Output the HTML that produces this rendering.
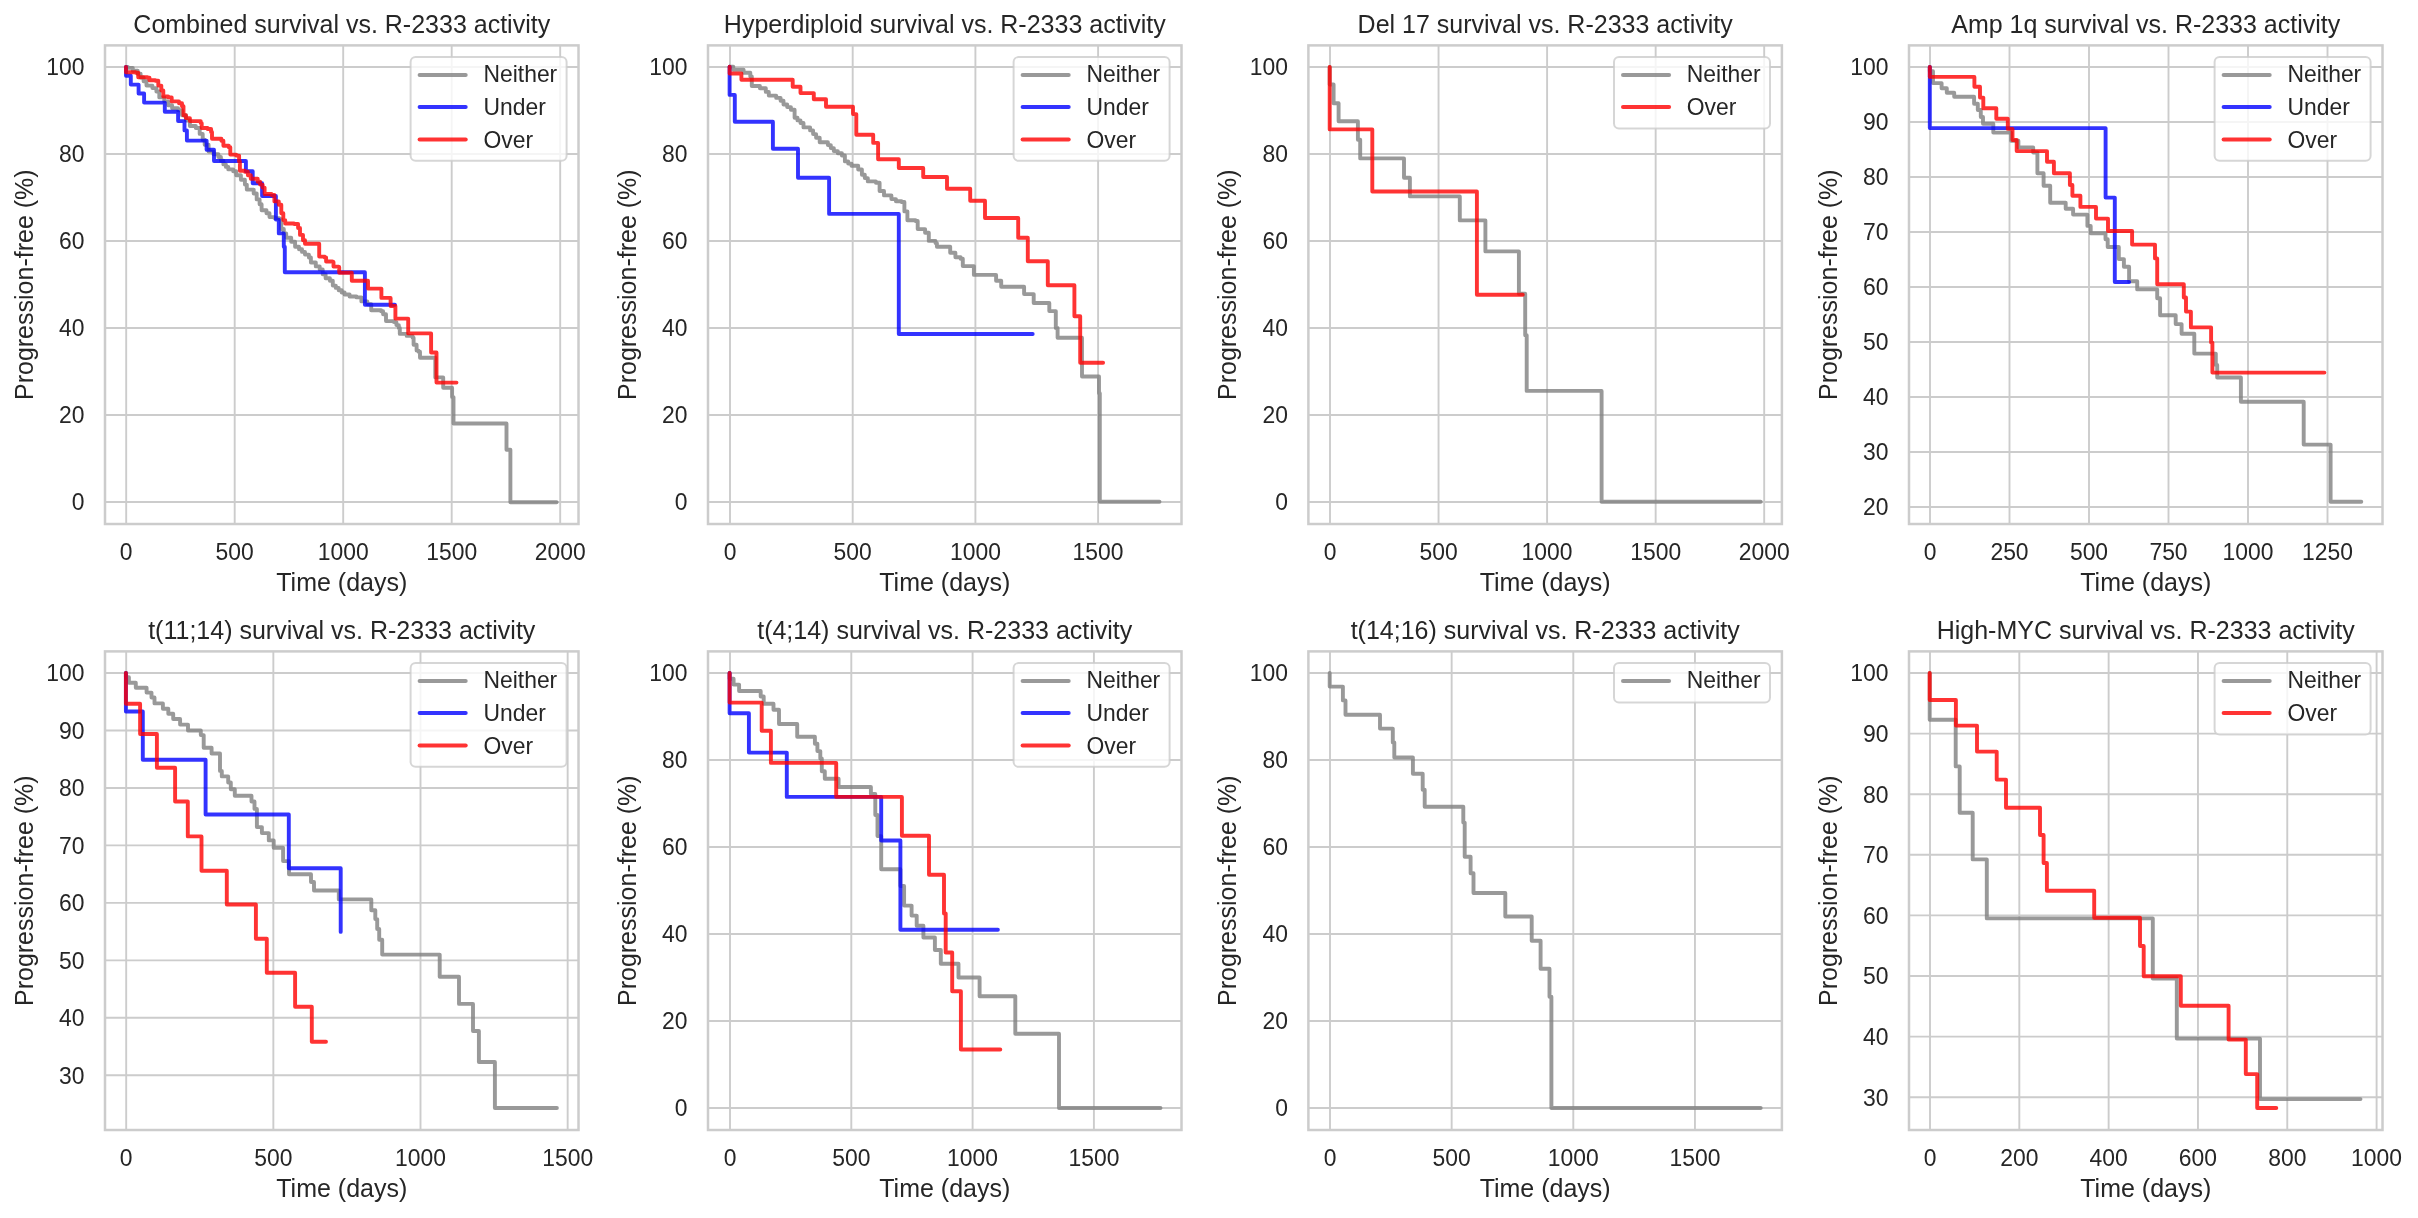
<!DOCTYPE html><html><head><meta charset="utf-8"><title>Survival vs. R-2333 activity</title><style>html,body{margin:0;padding:0;background:#fff;}svg{display:block;will-change:transform;}text{font-family:"Liberation Sans", Arial, "DejaVu Sans", sans-serif;fill:#262626;}</style></head><body>
<svg width="2418" height="1218" viewBox="0 0 2418 1218">
<rect width="2418" height="1218" fill="#ffffff"/>
<defs>
<clipPath id="c0"><rect x="105" y="45.4" width="473.5" height="478.6"/></clipPath>
<clipPath id="c1"><rect x="708" y="45.4" width="473.5" height="478.6"/></clipPath>
<clipPath id="c2"><rect x="1308.4" y="45.4" width="473.5" height="478.6"/></clipPath>
<clipPath id="c3"><rect x="1909" y="45.4" width="473.5" height="478.6"/></clipPath>
<clipPath id="c4"><rect x="105" y="651.4" width="473.5" height="478.6"/></clipPath>
<clipPath id="c5"><rect x="708" y="651.4" width="473.5" height="478.6"/></clipPath>
<clipPath id="c6"><rect x="1308.4" y="651.4" width="473.5" height="478.6"/></clipPath>
<clipPath id="c7"><rect x="1909" y="651.4" width="473.5" height="478.6"/></clipPath>
</defs>
<g><path d="M126.2 45.4V524M234.7 45.4V524M343.2 45.4V524M451.7 45.4V524M560.2 45.4V524M105 502H578.5M105 415H578.5M105 328H578.5M105 241H578.5M105 154H578.5M105 67H578.5" stroke="#cccccc" stroke-width="1.9" fill="none"/><path d="M126.0 66.9H127.8V67.9H132.8V70.8H137.7V73.8H140.6V77.5H143.6V81.2H146.5V85.6H152.4V88.1H156.4V91.5H159.3V97.4H164.3V101.4H168.2V105.3H172.1V108.3H178.1V110.2H182.0V115.2H186.0V120.5H189.9V126.0H195.8V128.0H199.7V133.9H202.7V139.8H204.7V144.7H208.6V151.6H213.5V154.3H218.4V157.0H220.9V160.7H223.4V164.4H225.9V166.9H228.3V169.4H233.2V171.3H236.2V175.3H240.9V179.7H244.9V184.6H246.8V189.6H253.7V193.5H256.7V199.4H259.6V204.3H261.6V210.2H266.5V213.2H269.5V217.1H274.4V218.1H279.3V219.1H281.3V229.0H283.8V233.4H286.2V237.8H291.2V241.8H295.1V246.7H299.0V249.2H302.0V251.9H305.0V254.6H308.9V257.5H310.9V262.5H315.8V266.4H319.7V269.4H322.7V274.3H325.6V278.2H329.9V280.7H332.8V285.6H335.8V287.9H338.7V290.2H341.7V292.5H344.6V294.5H349.6V296.5H356.5V297.4H361.4V301.4H367.3V304.3H371.2V310.2H381.1V311.2H383.1V314.2H386.0V315.2H386.0V321.1H393.9V322.1H396.4V325.1H398.8V328.0H399.8V333.9H406.7V335.9H412.6V337.8H413.6V344.7H416.6V350.6H418.6V351.8H420.0V357.7H435.3V377.4H443.2V387.8H452.1V397.1H453.5V423.5H506.5V449.8H510.4V502.2H556.6" stroke="rgba(128,128,128,0.8)" stroke-width="3.9" fill="none" stroke-linecap="round" stroke-linejoin="round" clip-path="url(#c0)"/><path d="M126 66.9V75.8H130.8V84.6H138.6V93.5H144.1V102.6H164.8V111.7H178.1V121.1H184.5V130.4H186.9V140.6H206.6V149.7H214V161H245.9V171.3H252.7V183.2H262.1V196H275.9V219.6H278.8V233.4H283.8V246.7H284.8V272.3H364.9V304.8H394.9" stroke="rgba(0,0,255,0.8)" stroke-width="3.9" fill="none" stroke-linecap="round" stroke-linejoin="round" clip-path="url(#c0)"/><path d="M126.0 66.9H126.0V72.3H135.7V72.8H138.2V77.2H147.5V77.7H149.5V80.2H155.4V80.7H158.3V85.6H161.3V90.5H163.3V96.5H168.2V97.4H171.7V101.4H179.0V103.3H182.0V106.3H183.5V115.2H185.9V118.1H189.9V121.1H200.7V123.1H201.7V128.0H207.6V129.0H211.1V131.9H212.0V138.8H221.4V140.8H223.4V145.7H228.8V147.2H230.3V154.6H236.2V155.6H239.1V161.5H239.9V170.8H244.9V171.8H247.9V175.2H250.8V178.7H257.7V181.7H260.1V184.6H262.6V187.6H264.6V194.0H271.5V195.0H274.4V201.4H278.8V204.8H281.3V213.2H283.3V220.1H285.2V223.5H294.1V224.0H298.1V228.0H300.0V234.9H303.0V240.3H305.0V243.7H318.3V243.7H319.2V256.6H324.7V257.5H326.1V261.5H332.5V262.0H333.5V266.6H338.7V266.9H339.2V272.8H351.8V280.7H368V288.6H381.4V297.9H390.6V306H395.4V318.6H408.2V333.4H431.1V352.5H436.5V382.6H456.5" stroke="rgba(255,0,0,0.8)" stroke-width="3.9" fill="none" stroke-linecap="round" stroke-linejoin="round" clip-path="url(#c0)"/><rect x="105" y="45.4" width="473.5" height="478.6" stroke="#cccccc" stroke-width="2.5" fill="none"/><text transform="translate(126.2 560.4) scale(1 1.055)" font-size="22.92" text-anchor="middle">0</text><text transform="translate(234.7 560.4) scale(1 1.055)" font-size="22.92" text-anchor="middle">500</text><text transform="translate(343.2 560.4) scale(1 1.055)" font-size="22.92" text-anchor="middle">1000</text><text transform="translate(451.7 560.4) scale(1 1.055)" font-size="22.92" text-anchor="middle">1500</text><text transform="translate(560.2 560.4) scale(1 1.055)" font-size="22.92" text-anchor="middle">2000</text><text transform="translate(84.6 510.4) scale(1 1.055)" font-size="22.92" text-anchor="end">0</text><text transform="translate(84.6 423.4) scale(1 1.055)" font-size="22.92" text-anchor="end">20</text><text transform="translate(84.6 336.4) scale(1 1.055)" font-size="22.92" text-anchor="end">40</text><text transform="translate(84.6 249.4) scale(1 1.055)" font-size="22.92" text-anchor="end">60</text><text transform="translate(84.6 162.4) scale(1 1.055)" font-size="22.92" text-anchor="end">80</text><text transform="translate(84.6 75.4) scale(1 1.055)" font-size="22.92" text-anchor="end">100</text><text x="341.75" y="591" font-size="25.0" text-anchor="middle">Time (days)</text><text transform="translate(33 284.7) rotate(-90)" font-size="25.0" text-anchor="middle">Progression-free (%)</text><text x="341.75" y="33.3" font-size="25.0" text-anchor="middle">Combined survival vs. R-2333 activity</text><rect x="410.6" y="57.1" width="156" height="103.7" rx="5" ry="5" fill="rgba(255,255,255,0.8)" stroke="rgba(204,204,204,0.8)" stroke-width="2"/><path d="M419.6 75H465.7" stroke="rgba(128,128,128,0.8)" stroke-width="4" stroke-linecap="round"/><text transform="translate(483.4 82) scale(1 1.055)" font-size="22.92">Neither</text><path d="M419.6 107H465.7" stroke="rgba(0,0,255,0.8)" stroke-width="4" stroke-linecap="round"/><text transform="translate(483.4 115.2) scale(1 1.055)" font-size="22.92">Under</text><path d="M419.6 139.5H465.7" stroke="rgba(255,0,0,0.8)" stroke-width="4" stroke-linecap="round"/><text transform="translate(483.4 147.5) scale(1 1.055)" font-size="22.92">Over</text></g>
<g><path d="M730 45.4V524M852.7 45.4V524M975.4 45.4V524M1098.1 45.4V524M708 502H1181.5M708 415H1181.5M708 328H1181.5M708 241H1181.5M708 154H1181.5M708 67H1181.5" stroke="#cccccc" stroke-width="1.9" fill="none"/><path d="M729.6 66.8H733.3V69.8H743.6V72.7H750.3V76.4H751.8V86.0H759.9V88.2H765.8V91.9H768.8V95.6H776.2V97.9H780.6V100.8H783.5V104.5H787.2V107.1H790.9V109.7H794.6V117.8H797.5V120.4H800.5V123.0H803.5V127.4H810.1V130.4H813.1V134.1H816.1V137.8H819.7V142.2H827.9V145.1H830.8V148.1H833.8V151.1H837.8V153.3H841.9V155.5H844.9V161.4H848.2V163.6H851.5V165.8H858.2V169.5H861.9V174.7H864.8V178.1H867.8V181.4H875.9V182.8H879.6V191.0H884.0V195.4H891.4V199.1H895.9V201.3H901.5V202.0H904.4V211.4H907.4V220.2H915.5V221.0H917.7V229.1H925.1V232.8H928.8V240.9H935.5V243.1H936.9V246.8H947.3V246.8H950.2V252.8H955.4V257.2H960.6V258.7H962.8V266.1H973.9V266.8V274.9H996.1V280.8H1001.2V286.7H1024.1V294.1H1033.7V303H1049.3V311.1H1055.8V328H1057.6V337.7H1082V376.5H1099V393.2H1099.8V501.7H1159.5" stroke="rgba(128,128,128,0.8)" stroke-width="3.9" fill="none" stroke-linecap="round" stroke-linejoin="round" clip-path="url(#c1)"/><path d="M729.6 66.8V94.9H734.8V121.8H772.9V148.8H798V177.7H829.1V213.9H898.8V334H1032.7" stroke="rgba(0,0,255,0.8)" stroke-width="3.9" fill="none" stroke-linecap="round" stroke-linejoin="round" clip-path="url(#c1)"/><path d="M729.6 66.8V73.5H741.4V79.8H792.7V86.8H800.5V93.1H813.8V99.3H826V106.7H853V114.1H856.3V134.8H873.2V142.9H878.1V159.2H898.8V168H923.2V177H947V188.8H970.2V200.7H985V218H1018.2V237.7H1027.8V261.3H1047.8V285.3H1074.4V316.3H1080.2V362.7H1103.1" stroke="rgba(255,0,0,0.8)" stroke-width="3.9" fill="none" stroke-linecap="round" stroke-linejoin="round" clip-path="url(#c1)"/><rect x="708" y="45.4" width="473.5" height="478.6" stroke="#cccccc" stroke-width="2.5" fill="none"/><text transform="translate(730 560.4) scale(1 1.055)" font-size="22.92" text-anchor="middle">0</text><text transform="translate(852.7 560.4) scale(1 1.055)" font-size="22.92" text-anchor="middle">500</text><text transform="translate(975.4 560.4) scale(1 1.055)" font-size="22.92" text-anchor="middle">1000</text><text transform="translate(1098.1 560.4) scale(1 1.055)" font-size="22.92" text-anchor="middle">1500</text><text transform="translate(687.6 510.4) scale(1 1.055)" font-size="22.92" text-anchor="end">0</text><text transform="translate(687.6 423.4) scale(1 1.055)" font-size="22.92" text-anchor="end">20</text><text transform="translate(687.6 336.4) scale(1 1.055)" font-size="22.92" text-anchor="end">40</text><text transform="translate(687.6 249.4) scale(1 1.055)" font-size="22.92" text-anchor="end">60</text><text transform="translate(687.6 162.4) scale(1 1.055)" font-size="22.92" text-anchor="end">80</text><text transform="translate(687.6 75.4) scale(1 1.055)" font-size="22.92" text-anchor="end">100</text><text x="944.75" y="591" font-size="25.0" text-anchor="middle">Time (days)</text><text transform="translate(636 284.7) rotate(-90)" font-size="25.0" text-anchor="middle">Progression-free (%)</text><text x="944.75" y="33.3" font-size="25.0" text-anchor="middle">Hyperdiploid survival vs. R-2333 activity</text><rect x="1013.6" y="57.1" width="156" height="103.7" rx="5" ry="5" fill="rgba(255,255,255,0.8)" stroke="rgba(204,204,204,0.8)" stroke-width="2"/><path d="M1022.6 75H1068.7" stroke="rgba(128,128,128,0.8)" stroke-width="4" stroke-linecap="round"/><text transform="translate(1086.4 82) scale(1 1.055)" font-size="22.92">Neither</text><path d="M1022.6 107H1068.7" stroke="rgba(0,0,255,0.8)" stroke-width="4" stroke-linecap="round"/><text transform="translate(1086.4 115.2) scale(1 1.055)" font-size="22.92">Under</text><path d="M1022.6 139.5H1068.7" stroke="rgba(255,0,0,0.8)" stroke-width="4" stroke-linecap="round"/><text transform="translate(1086.4 147.5) scale(1 1.055)" font-size="22.92">Over</text></g>
<g><path d="M1330 45.4V524M1438.55 45.4V524M1547.1 45.4V524M1655.65 45.4V524M1764.2 45.4V524M1308.4 502H1781.9M1308.4 415H1781.9M1308.4 328H1781.9M1308.4 241H1781.9M1308.4 154H1781.9M1308.4 67H1781.9" stroke="#cccccc" stroke-width="1.9" fill="none"/><path d="M1329.7 67V84.5H1333.6V103.2H1338.6V121.3H1357.9V139.7H1360.2V158.4H1404V177.7H1409.9V196.4H1459.8V220.4H1485.4V251.4H1518.9V293.8H1525.2V335.2H1526.7V390.9H1601.6V501.7H1760.7" stroke="rgba(128,128,128,0.8)" stroke-width="3.9" fill="none" stroke-linecap="round" stroke-linejoin="round" clip-path="url(#c2)"/><path d="M1329.7 67V129.4H1372.3V191.5H1476.9V294.8H1522.8" stroke="rgba(255,0,0,0.8)" stroke-width="3.9" fill="none" stroke-linecap="round" stroke-linejoin="round" clip-path="url(#c2)"/><rect x="1308.4" y="45.4" width="473.5" height="478.6" stroke="#cccccc" stroke-width="2.5" fill="none"/><text transform="translate(1330 560.4) scale(1 1.055)" font-size="22.92" text-anchor="middle">0</text><text transform="translate(1438.55 560.4) scale(1 1.055)" font-size="22.92" text-anchor="middle">500</text><text transform="translate(1547.1 560.4) scale(1 1.055)" font-size="22.92" text-anchor="middle">1000</text><text transform="translate(1655.65 560.4) scale(1 1.055)" font-size="22.92" text-anchor="middle">1500</text><text transform="translate(1764.2 560.4) scale(1 1.055)" font-size="22.92" text-anchor="middle">2000</text><text transform="translate(1288 510.4) scale(1 1.055)" font-size="22.92" text-anchor="end">0</text><text transform="translate(1288 423.4) scale(1 1.055)" font-size="22.92" text-anchor="end">20</text><text transform="translate(1288 336.4) scale(1 1.055)" font-size="22.92" text-anchor="end">40</text><text transform="translate(1288 249.4) scale(1 1.055)" font-size="22.92" text-anchor="end">60</text><text transform="translate(1288 162.4) scale(1 1.055)" font-size="22.92" text-anchor="end">80</text><text transform="translate(1288 75.4) scale(1 1.055)" font-size="22.92" text-anchor="end">100</text><text x="1545.15" y="591" font-size="25.0" text-anchor="middle">Time (days)</text><text transform="translate(1236.4 284.7) rotate(-90)" font-size="25.0" text-anchor="middle">Progression-free (%)</text><text x="1545.15" y="33.3" font-size="25.0" text-anchor="middle">Del 17 survival vs. R-2333 activity</text><rect x="1614" y="57.1" width="156" height="71.5" rx="5" ry="5" fill="rgba(255,255,255,0.8)" stroke="rgba(204,204,204,0.8)" stroke-width="2"/><path d="M1623 75H1669.1" stroke="rgba(128,128,128,0.8)" stroke-width="4" stroke-linecap="round"/><text transform="translate(1686.8 82) scale(1 1.055)" font-size="22.92">Neither</text><path d="M1623 107H1669.1" stroke="rgba(255,0,0,0.8)" stroke-width="4" stroke-linecap="round"/><text transform="translate(1686.8 115.2) scale(1 1.055)" font-size="22.92">Over</text></g>
<g><path d="M1930 45.4V524M2009.5 45.4V524M2089 45.4V524M2168.5 45.4V524M2248 45.4V524M2327.5 45.4V524M1909 507H2382.5M1909 452H2382.5M1909 397H2382.5M1909 342H2382.5M1909 287H2382.5M1909 232H2382.5M1909 177H2382.5M1909 122H2382.5M1909 67H2382.5" stroke="#cccccc" stroke-width="1.9" fill="none"/><path d="M1929.8 67V71.3H1933V83.1H1941.6V88.2H1946.8V92.7H1954.2V96.7H1974.1V103.8H1977.8V110H1980.8V117H1983V123.7H1993.3V132.6H2011.1V140.7H2018.4V147.4H2033.2V152.5H2037.4V173.2H2043.6V185.8H2050.2V202.8H2065.7V208.7H2073.1V214.6H2087.4V225.9H2090.7V233.2H2105.5V239.2H2107.7V247H2118.8V259.1H2123.9V266.8H2129.1V281.3H2137.2V289.4H2157.2V298.3H2160.1V315.3H2175.7V324.1H2181.6V333.7H2194.3V353.6H2215.8V365H2217.2V377.5H2240.9V401.8H2303.7V444.6H2330.6V501.8H2361.3" stroke="rgba(128,128,128,0.8)" stroke-width="3.9" fill="none" stroke-linecap="round" stroke-linejoin="round" clip-path="url(#c3)"/><path d="M1929.8 67V128.1H2105.6V197.6H2114.8V282H2129.1" stroke="rgba(0,0,255,0.8)" stroke-width="3.9" fill="none" stroke-linecap="round" stroke-linejoin="round" clip-path="url(#c3)"/><path d="M1929.8 67V76.9H1974.4V86.8H1980V97.6H1983.3V108.2H1996.3V118.8H2007.8V128.9H2012.5V140H2016.7V151.1H2047V161.7H2053.9V173.2H2069.9V185H2072.4V195.8H2080.4V206.9H2096V218.6H2108V231H2132.1V244.6H2155V258.4H2157.2V284.2H2183.8V297.5H2186V311.6H2190.9V327.4H2211.1V342.6H2212.4V372.6H2324.4" stroke="rgba(255,0,0,0.8)" stroke-width="3.9" fill="none" stroke-linecap="round" stroke-linejoin="round" clip-path="url(#c3)"/><rect x="1909" y="45.4" width="473.5" height="478.6" stroke="#cccccc" stroke-width="2.5" fill="none"/><text transform="translate(1930 560.4) scale(1 1.055)" font-size="22.92" text-anchor="middle">0</text><text transform="translate(2009.5 560.4) scale(1 1.055)" font-size="22.92" text-anchor="middle">250</text><text transform="translate(2089 560.4) scale(1 1.055)" font-size="22.92" text-anchor="middle">500</text><text transform="translate(2168.5 560.4) scale(1 1.055)" font-size="22.92" text-anchor="middle">750</text><text transform="translate(2248 560.4) scale(1 1.055)" font-size="22.92" text-anchor="middle">1000</text><text transform="translate(2327.5 560.4) scale(1 1.055)" font-size="22.92" text-anchor="middle">1250</text><text transform="translate(1888.6 515.4) scale(1 1.055)" font-size="22.92" text-anchor="end">20</text><text transform="translate(1888.6 460.4) scale(1 1.055)" font-size="22.92" text-anchor="end">30</text><text transform="translate(1888.6 405.4) scale(1 1.055)" font-size="22.92" text-anchor="end">40</text><text transform="translate(1888.6 350.4) scale(1 1.055)" font-size="22.92" text-anchor="end">50</text><text transform="translate(1888.6 295.4) scale(1 1.055)" font-size="22.92" text-anchor="end">60</text><text transform="translate(1888.6 240.4) scale(1 1.055)" font-size="22.92" text-anchor="end">70</text><text transform="translate(1888.6 185.4) scale(1 1.055)" font-size="22.92" text-anchor="end">80</text><text transform="translate(1888.6 130.4) scale(1 1.055)" font-size="22.92" text-anchor="end">90</text><text transform="translate(1888.6 75.4) scale(1 1.055)" font-size="22.92" text-anchor="end">100</text><text x="2145.75" y="591" font-size="25.0" text-anchor="middle">Time (days)</text><text transform="translate(1837 284.7) rotate(-90)" font-size="25.0" text-anchor="middle">Progression-free (%)</text><text x="2145.75" y="33.3" font-size="25.0" text-anchor="middle">Amp 1q survival vs. R-2333 activity</text><rect x="2214.6" y="57.1" width="156" height="103.7" rx="5" ry="5" fill="rgba(255,255,255,0.8)" stroke="rgba(204,204,204,0.8)" stroke-width="2"/><path d="M2223.6 75H2269.7" stroke="rgba(128,128,128,0.8)" stroke-width="4" stroke-linecap="round"/><text transform="translate(2287.4 82) scale(1 1.055)" font-size="22.92">Neither</text><path d="M2223.6 107H2269.7" stroke="rgba(0,0,255,0.8)" stroke-width="4" stroke-linecap="round"/><text transform="translate(2287.4 115.2) scale(1 1.055)" font-size="22.92">Under</text><path d="M2223.6 139.5H2269.7" stroke="rgba(255,0,0,0.8)" stroke-width="4" stroke-linecap="round"/><text transform="translate(2287.4 147.5) scale(1 1.055)" font-size="22.92">Over</text></g>
<g><path d="M126.2 651.4V1130M273.35 651.4V1130M420.5 651.4V1130M567.65 651.4V1130M105 1075.29H578.5M105 1017.82H578.5M105 960.35H578.5M105 902.88H578.5M105 845.41H578.5M105 787.94H578.5M105 730.47H578.5M105 673H578.5" stroke="#cccccc" stroke-width="1.9" fill="none"/><path d="M125.9 673V677.3H128.9V682.7H135.8V687.7H146.6V692.6H151.5V697.5H154.5V703.4H162.9V708.8H168.3V713.8H173.2V719H180.1V724.6H188V730.5H200.8V735.1H203.7V747.8H211.6V753.5H220V770.9H221.8V776.4H228.2V782.5H230.8V789.2H234.8V795.8H251.5V801.5H254.5V808.9H256.9V827.1H261.9V833.1H268.8V840.4H273.7V847.8H283.1V861.1H289V874.3H311V882H314V890.5H338.8V899.4H371.3V910.2H375.3V919.1H377.2V929H379.2V939.8H382.2V954.6H439.7V976.8H459V1003.9H473V1031H478.9V1062H494.9V1108H556.9" stroke="rgba(128,128,128,0.8)" stroke-width="3.9" fill="none" stroke-linecap="round" stroke-linejoin="round" clip-path="url(#c4)"/><path d="M125.9 673V711.5H142.8V759.8H205.6V814.5H288.8V868.2H340.7V931.9" stroke="rgba(0,0,255,0.8)" stroke-width="3.9" fill="none" stroke-linecap="round" stroke-linejoin="round" clip-path="url(#c4)"/><path d="M125.9 673V703.8H140.1V734H156.9V767.8H175.1V801.5H187.8V836.4H201.5V870.8H226.8V904.5H255.9V938.7H266.8V972.7H295.1V1006.8H311.8V1041.7H326" stroke="rgba(255,0,0,0.8)" stroke-width="3.9" fill="none" stroke-linecap="round" stroke-linejoin="round" clip-path="url(#c4)"/><rect x="105" y="651.4" width="473.5" height="478.6" stroke="#cccccc" stroke-width="2.5" fill="none"/><text transform="translate(126.2 1166.4) scale(1 1.055)" font-size="22.92" text-anchor="middle">0</text><text transform="translate(273.35 1166.4) scale(1 1.055)" font-size="22.92" text-anchor="middle">500</text><text transform="translate(420.5 1166.4) scale(1 1.055)" font-size="22.92" text-anchor="middle">1000</text><text transform="translate(567.65 1166.4) scale(1 1.055)" font-size="22.92" text-anchor="middle">1500</text><text transform="translate(84.6 1083.69) scale(1 1.055)" font-size="22.92" text-anchor="end">30</text><text transform="translate(84.6 1026.22) scale(1 1.055)" font-size="22.92" text-anchor="end">40</text><text transform="translate(84.6 968.75) scale(1 1.055)" font-size="22.92" text-anchor="end">50</text><text transform="translate(84.6 911.28) scale(1 1.055)" font-size="22.92" text-anchor="end">60</text><text transform="translate(84.6 853.81) scale(1 1.055)" font-size="22.92" text-anchor="end">70</text><text transform="translate(84.6 796.34) scale(1 1.055)" font-size="22.92" text-anchor="end">80</text><text transform="translate(84.6 738.87) scale(1 1.055)" font-size="22.92" text-anchor="end">90</text><text transform="translate(84.6 681.4) scale(1 1.055)" font-size="22.92" text-anchor="end">100</text><text x="341.75" y="1197" font-size="25.0" text-anchor="middle">Time (days)</text><text transform="translate(33 890.7) rotate(-90)" font-size="25.0" text-anchor="middle">Progression-free (%)</text><text x="341.75" y="639.3" font-size="25.0" text-anchor="middle">t(11;14) survival vs. R-2333 activity</text><rect x="410.6" y="663.1" width="156" height="103.7" rx="5" ry="5" fill="rgba(255,255,255,0.8)" stroke="rgba(204,204,204,0.8)" stroke-width="2"/><path d="M419.6 681H465.7" stroke="rgba(128,128,128,0.8)" stroke-width="4" stroke-linecap="round"/><text transform="translate(483.4 688) scale(1 1.055)" font-size="22.92">Neither</text><path d="M419.6 713H465.7" stroke="rgba(0,0,255,0.8)" stroke-width="4" stroke-linecap="round"/><text transform="translate(483.4 721.2) scale(1 1.055)" font-size="22.92">Under</text><path d="M419.6 745.5H465.7" stroke="rgba(255,0,0,0.8)" stroke-width="4" stroke-linecap="round"/><text transform="translate(483.4 753.5) scale(1 1.055)" font-size="22.92">Over</text></g>
<g><path d="M730 651.4V1130M851.3 651.4V1130M972.6 651.4V1130M1093.9 651.4V1130M708 1108H1181.5M708 1021H1181.5M708 934H1181.5M708 847H1181.5M708 760H1181.5M708 673H1181.5" stroke="#cccccc" stroke-width="1.9" fill="none"/><path d="M729.6 673V678.7H733.6V684.6H739.1V691H760.7V696.5H763.7V703.8H773.5V709.8H779V724H797.2V736.8H814.9V743.7H817.4V751.1H820.3V758.5H821.8V771.3H824.8V778.7H838.6V787H870.9V793.9H875.3V815H877.5V836.1H881.2V869.3H900.4V886H904.1V905.6H911.6V915.6H916.7V925.7H923.4V937.5H934.9V950H940.8V963.7H958.5V977.5H979.6V996.3H1015.3V1033.7H1059V1108H1160.5" stroke="rgba(128,128,128,0.8)" stroke-width="3.9" fill="none" stroke-linecap="round" stroke-linejoin="round" clip-path="url(#c5)"/><path d="M729.6 673V713.2H748.9V752.6H786.8V796.9H881.2V840.5H900.4V929.7H997.9" stroke="rgba(0,0,255,0.8)" stroke-width="3.9" fill="none" stroke-linecap="round" stroke-linejoin="round" clip-path="url(#c5)"/><path d="M729.6 673V702.6H761.7V730.7H770.9V762.9H836.2V796.9H901.9V835.8H929V874.8H944V913.5H945.7V952.5H952.2V991.3H960.9V1049.5H1000.3" stroke="rgba(255,0,0,0.8)" stroke-width="3.9" fill="none" stroke-linecap="round" stroke-linejoin="round" clip-path="url(#c5)"/><rect x="708" y="651.4" width="473.5" height="478.6" stroke="#cccccc" stroke-width="2.5" fill="none"/><text transform="translate(730 1166.4) scale(1 1.055)" font-size="22.92" text-anchor="middle">0</text><text transform="translate(851.3 1166.4) scale(1 1.055)" font-size="22.92" text-anchor="middle">500</text><text transform="translate(972.6 1166.4) scale(1 1.055)" font-size="22.92" text-anchor="middle">1000</text><text transform="translate(1093.9 1166.4) scale(1 1.055)" font-size="22.92" text-anchor="middle">1500</text><text transform="translate(687.6 1116.4) scale(1 1.055)" font-size="22.92" text-anchor="end">0</text><text transform="translate(687.6 1029.4) scale(1 1.055)" font-size="22.92" text-anchor="end">20</text><text transform="translate(687.6 942.4) scale(1 1.055)" font-size="22.92" text-anchor="end">40</text><text transform="translate(687.6 855.4) scale(1 1.055)" font-size="22.92" text-anchor="end">60</text><text transform="translate(687.6 768.4) scale(1 1.055)" font-size="22.92" text-anchor="end">80</text><text transform="translate(687.6 681.4) scale(1 1.055)" font-size="22.92" text-anchor="end">100</text><text x="944.75" y="1197" font-size="25.0" text-anchor="middle">Time (days)</text><text transform="translate(636 890.7) rotate(-90)" font-size="25.0" text-anchor="middle">Progression-free (%)</text><text x="944.75" y="639.3" font-size="25.0" text-anchor="middle">t(4;14) survival vs. R-2333 activity</text><rect x="1013.6" y="663.1" width="156" height="103.7" rx="5" ry="5" fill="rgba(255,255,255,0.8)" stroke="rgba(204,204,204,0.8)" stroke-width="2"/><path d="M1022.6 681H1068.7" stroke="rgba(128,128,128,0.8)" stroke-width="4" stroke-linecap="round"/><text transform="translate(1086.4 688) scale(1 1.055)" font-size="22.92">Neither</text><path d="M1022.6 713H1068.7" stroke="rgba(0,0,255,0.8)" stroke-width="4" stroke-linecap="round"/><text transform="translate(1086.4 721.2) scale(1 1.055)" font-size="22.92">Under</text><path d="M1022.6 745.5H1068.7" stroke="rgba(255,0,0,0.8)" stroke-width="4" stroke-linecap="round"/><text transform="translate(1086.4 753.5) scale(1 1.055)" font-size="22.92">Over</text></g>
<g><path d="M1330 651.4V1130M1451.65 651.4V1130M1573.3 651.4V1130M1694.95 651.4V1130M1308.4 1108H1781.9M1308.4 1021H1781.9M1308.4 934H1781.9M1308.4 847H1781.9M1308.4 760H1781.9M1308.4 673H1781.9" stroke="#cccccc" stroke-width="1.9" fill="none"/><path d="M1329.7 673V686.6H1342.9V700.4H1345.5V714.8H1380V728.6H1392.8V742.4H1394.3V757.5H1412.9V773.7H1422.7V789.7H1424.7V806.8H1463.3V822.6H1464.7V856.7H1470.6V873.2H1473.5V893H1505.3V916.5H1531.7V940.7H1540.6V968.7H1549.5V996.7H1551.4V1108H1760.7" stroke="rgba(128,128,128,0.8)" stroke-width="3.9" fill="none" stroke-linecap="round" stroke-linejoin="round" clip-path="url(#c6)"/><rect x="1308.4" y="651.4" width="473.5" height="478.6" stroke="#cccccc" stroke-width="2.5" fill="none"/><text transform="translate(1330 1166.4) scale(1 1.055)" font-size="22.92" text-anchor="middle">0</text><text transform="translate(1451.65 1166.4) scale(1 1.055)" font-size="22.92" text-anchor="middle">500</text><text transform="translate(1573.3 1166.4) scale(1 1.055)" font-size="22.92" text-anchor="middle">1000</text><text transform="translate(1694.95 1166.4) scale(1 1.055)" font-size="22.92" text-anchor="middle">1500</text><text transform="translate(1288 1116.4) scale(1 1.055)" font-size="22.92" text-anchor="end">0</text><text transform="translate(1288 1029.4) scale(1 1.055)" font-size="22.92" text-anchor="end">20</text><text transform="translate(1288 942.4) scale(1 1.055)" font-size="22.92" text-anchor="end">40</text><text transform="translate(1288 855.4) scale(1 1.055)" font-size="22.92" text-anchor="end">60</text><text transform="translate(1288 768.4) scale(1 1.055)" font-size="22.92" text-anchor="end">80</text><text transform="translate(1288 681.4) scale(1 1.055)" font-size="22.92" text-anchor="end">100</text><text x="1545.15" y="1197" font-size="25.0" text-anchor="middle">Time (days)</text><text transform="translate(1236.4 890.7) rotate(-90)" font-size="25.0" text-anchor="middle">Progression-free (%)</text><text x="1545.15" y="639.3" font-size="25.0" text-anchor="middle">t(14;16) survival vs. R-2333 activity</text><rect x="1614" y="663.1" width="156" height="39.4" rx="5" ry="5" fill="rgba(255,255,255,0.8)" stroke="rgba(204,204,204,0.8)" stroke-width="2"/><path d="M1623 681H1669.1" stroke="rgba(128,128,128,0.8)" stroke-width="4" stroke-linecap="round"/><text transform="translate(1686.8 688) scale(1 1.055)" font-size="22.92">Neither</text></g>
<g><path d="M1930 651.4V1130M2019.32 651.4V1130M2108.64 651.4V1130M2197.96 651.4V1130M2287.28 651.4V1130M2376.6 651.4V1130M1909 1097.2H2382.5M1909 1036.6H2382.5M1909 976H2382.5M1909 915.4H2382.5M1909 854.8H2382.5M1909 794.2H2382.5M1909 733.6H2382.5M1909 673H2382.5" stroke="#cccccc" stroke-width="1.9" fill="none"/><path d="M1929.7 673V719.7H1955.7V766.4H1959.7V812.7H1972.7V859.4H1986.8V918.4H2152.8V978.5H2176.8V1038.6H2260V1099.1H2360.5" stroke="rgba(128,128,128,0.8)" stroke-width="3.9" fill="none" stroke-linecap="round" stroke-linejoin="round" clip-path="url(#c7)"/><path d="M1929.7 673V700H1955.9V725.6H1977V751.6H1996.7V779.6H2006V807.8H2040V835H2043.6V863H2046.9V890.7H2094.2V917.8H2140V946H2143.7V976.2H2180.8V1005.7H2228.6V1039.6H2245.8V1074.1H2257.2V1108H2276.3" stroke="rgba(255,0,0,0.8)" stroke-width="3.9" fill="none" stroke-linecap="round" stroke-linejoin="round" clip-path="url(#c7)"/><rect x="1909" y="651.4" width="473.5" height="478.6" stroke="#cccccc" stroke-width="2.5" fill="none"/><text transform="translate(1930 1166.4) scale(1 1.055)" font-size="22.92" text-anchor="middle">0</text><text transform="translate(2019.32 1166.4) scale(1 1.055)" font-size="22.92" text-anchor="middle">200</text><text transform="translate(2108.64 1166.4) scale(1 1.055)" font-size="22.92" text-anchor="middle">400</text><text transform="translate(2197.96 1166.4) scale(1 1.055)" font-size="22.92" text-anchor="middle">600</text><text transform="translate(2287.28 1166.4) scale(1 1.055)" font-size="22.92" text-anchor="middle">800</text><text transform="translate(2376.6 1166.4) scale(1 1.055)" font-size="22.92" text-anchor="middle">1000</text><text transform="translate(1888.6 1105.6) scale(1 1.055)" font-size="22.92" text-anchor="end">30</text><text transform="translate(1888.6 1045) scale(1 1.055)" font-size="22.92" text-anchor="end">40</text><text transform="translate(1888.6 984.4) scale(1 1.055)" font-size="22.92" text-anchor="end">50</text><text transform="translate(1888.6 923.8) scale(1 1.055)" font-size="22.92" text-anchor="end">60</text><text transform="translate(1888.6 863.2) scale(1 1.055)" font-size="22.92" text-anchor="end">70</text><text transform="translate(1888.6 802.6) scale(1 1.055)" font-size="22.92" text-anchor="end">80</text><text transform="translate(1888.6 742) scale(1 1.055)" font-size="22.92" text-anchor="end">90</text><text transform="translate(1888.6 681.4) scale(1 1.055)" font-size="22.92" text-anchor="end">100</text><text x="2145.75" y="1197" font-size="25.0" text-anchor="middle">Time (days)</text><text transform="translate(1837 890.7) rotate(-90)" font-size="25.0" text-anchor="middle">Progression-free (%)</text><text x="2145.75" y="639.3" font-size="25.0" text-anchor="middle">High-MYC survival vs. R-2333 activity</text><rect x="2214.6" y="663.1" width="156" height="71.5" rx="5" ry="5" fill="rgba(255,255,255,0.8)" stroke="rgba(204,204,204,0.8)" stroke-width="2"/><path d="M2223.6 681H2269.7" stroke="rgba(128,128,128,0.8)" stroke-width="4" stroke-linecap="round"/><text transform="translate(2287.4 688) scale(1 1.055)" font-size="22.92">Neither</text><path d="M2223.6 713H2269.7" stroke="rgba(255,0,0,0.8)" stroke-width="4" stroke-linecap="round"/><text transform="translate(2287.4 721.2) scale(1 1.055)" font-size="22.92">Over</text></g>
</svg></body></html>
